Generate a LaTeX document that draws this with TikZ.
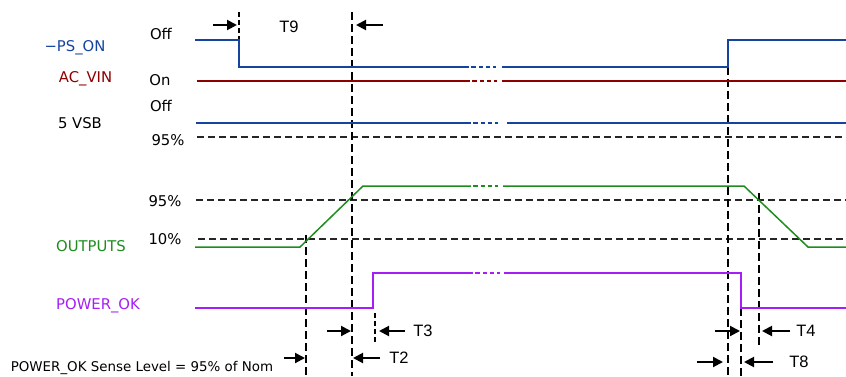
\documentclass[tikz,border=0pt]{standalone}
\usepackage{fontspec}
\setmainfont{DejaVu Sans}
\newfontfamily\arialf{Liberation Sans}
\usetikzlibrary{arrows.meta}
\definecolor{psblue}{RGB}{20,68,160}
\definecolor{acred}{RGB}{140,0,0}
\definecolor{outgreen}{RGB}{30,140,30}
\definecolor{pokpurple}{RGB}{165,30,245}
\tikzset{
  lbl/.style={font=\fontsize{14.8}{16}\selectfont, inner sep=0pt},
  tlbl/.style={font=\arialf\fontsize{16.5}{18}\selectfont, inner sep=0pt},
  wave/.style={line width=2.3},
  thinwave/.style={line width=1.5},
  brk/.style={dash pattern=on 5 off 3 on 4 off 3 on 4 off 3 on 3 off 20},
  lvl/.style={black!85, line width=1.5, dash pattern=on 7 off 4},
  vline/.style={black, line width=1.3, dash pattern=on 8 off 4},
  vshort/.style={black, line width=1.1, dash pattern=on 5 off 3},
  arr/.style={black, line width=2, -{Triangle[length=10,width=10]}},
}
\begin{document}
\begin{tikzpicture}[x=1pt,y=-1pt]
\useasboundingbox (0,0) rectangle (846,376);
% labels
\node[lbl, text=psblue] (lps) at (75,48) {−PS\_ON};
\node[lbl] (loff1) at (161,34) {Off};
\node[lbl, text=acred] (lac) at (85.5,79) {AC\_VIN};
\node[lbl] (lon) at (160,80) {On};
\node[lbl] (loff2) at (161,106) {Off};
\node[lbl] (lvsb) at (80,123) {5 VSB};
\node[lbl] (l95a) at (168,140) {95\%};
\node[lbl] (l95b) at (165,201) {95\%};
\node[lbl] (l10) at (165,239) {10\%};
\node[lbl, text=outgreen] (lout) at (91,246) {OUTPUTS};
\node[lbl, text=pokpurple] (lpok) at (98,306) {POWER\_OK};
\node[font=\fontsize{13.4}{15}\selectfont, inner sep=0pt] (lsense) at (142,368) {POWER\_OK Sense Level = 95\% of Nom};
\node[tlbl] (t9) at (289,27) {T9};
\node[tlbl] (t3) at (423,331) {T3};
\node[tlbl] (t2) at (399,358) {T2};
\node[tlbl] (t4) at (806,331) {T4};
\node[tlbl] (t8) at (799,362) {T8};
% level lines
\draw[lvl] (197,137) -- (846,137);
\draw[lvl] (196,200) -- (846,200);
\draw[lvl] (198,239) -- (846,239);
% vertical dashed lines
\draw[vshort] (239,12) -- (239,40);
\draw[vline] (352,12) -- (352,376);
\draw[vline] (306,235) -- (306,376);
\draw[vshort] (375,313) -- (375,344);
\draw[vline] (728,67) -- (728,376);
\draw[vline] (741,308) -- (741,376);
\draw[vline] (759,193) -- (759,346);
% -PS_ON
\draw[wave, psblue] (195,40) -- (239,40) -- (239,67) -- (469,67);
\draw[wave, psblue, brk] (471,67) -- (500,67);
\draw[wave, psblue] (502,67) -- (728,67) -- (728,40) -- (846,40);
% AC_VIN
\draw[wave, acred] (197,81) -- (470,81);
\draw[wave, acred, brk] (472,81) -- (500,81);
\draw[wave, acred] (502,81) -- (846,81);
% 5VSB
\draw[wave, psblue] (196,123) -- (471,123);
\draw[wave, psblue, brk] (473,123) -- (505,123);
\draw[wave, psblue] (507,123) -- (846,123);
% OUTPUTS
\draw[thinwave, outgreen] (195,247) -- (300,247) -- (363,186) -- (471,186);
\draw[thinwave, outgreen, brk] (473,186) -- (502,186);
\draw[thinwave, outgreen] (503,186) -- (744,186) -- (808,247) -- (846,247);
% POWER_OK
\draw[wave, line width=1.9, pokpurple] (195,308) -- (373,308) -- (373,273) -- (473,273);
\draw[wave, line width=1.9, pokpurple, brk] (475,273) -- (502,273);
\draw[wave, line width=1.9, pokpurple] (504,273) -- (741,273) -- (741,308) -- (846,308);
% arrows
\draw[arr] (213,25) -- (237,25);
\draw[arr] (383,25) -- (356,25);
\draw[arr] (327,331) -- (351,331);
\draw[arr] (405,331) -- (379,331);
\draw[arr] (284,358) -- (305,358);
\draw[arr] (380,358) -- (353,358);
\draw[arr] (715,331) -- (740,331);
\draw[arr] (790,331) -- (762,331);
\draw[arr] (697,362) -- (723,362);
\draw[arr] (773,362) -- (744,362);
\end{tikzpicture}
\end{document}
